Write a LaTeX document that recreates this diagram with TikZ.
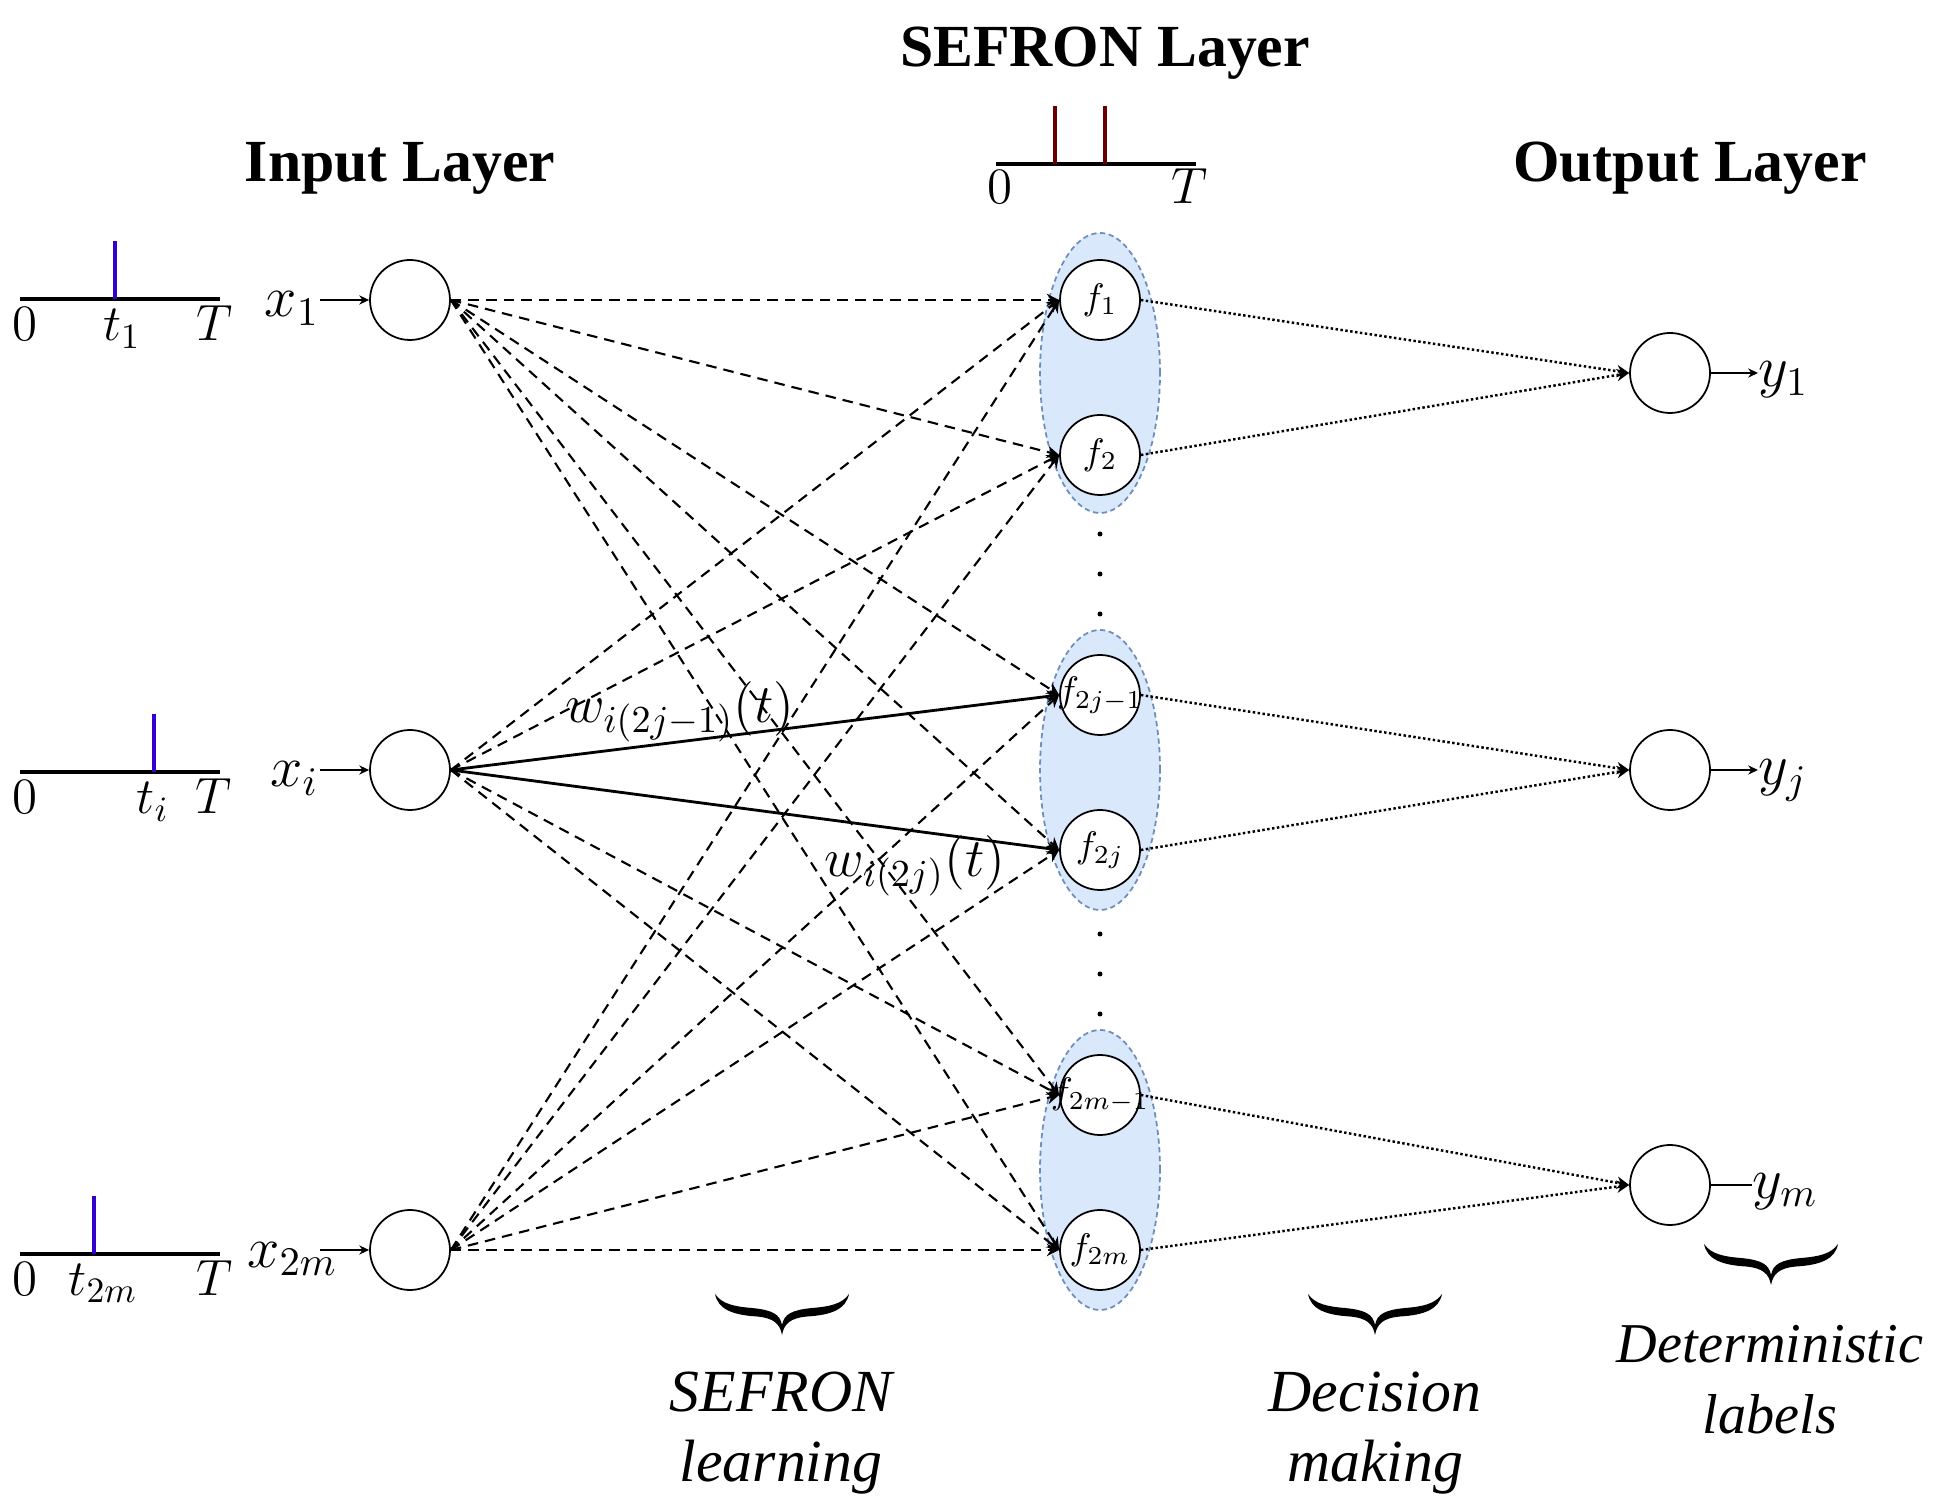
\RequirePackage{fix-cm}
\documentclass[tikz,border=0pt]{standalone}
\usepackage{fontspec}
\setmainfont{Liberation Serif}[ItalicFont={Liberation Serif Italic},BoldFont={Liberation Serif Bold}]
\usetikzlibrary{arrows.meta,calc}
\definecolor{SpikeClr}{RGB}{51,0,204}
\definecolor{FireClr}{RGB}{102,0,0}
\definecolor{GroupClr}{RGB}{218,232,252}
\definecolor{GroupLineClr}{RGB}{108,142,191}

\newcommand\titlefont{\fontsize{17}{20}\selectfont\bfseries}
\newcommand\notefont{\fontsize{17}{20}\selectfont\itshape}
\newcommand\tickfont{\fontsize{14.5}{17}\selectfont}
\newcommand\varfont{\fontsize{16.5}{19}\selectfont}
\newcommand\wfont{\fontsize{15.5}{18}\selectfont}
\newcommand\ffont{\fontsize{10.5}{12}\selectfont}
\newcommand\fl[1]{\makebox[0pt]{$#1$}}

\tikzset{
  neuron/.style={circle,draw,line width=0.5pt,fill=white,minimum size=0.8cm,inner sep=0pt,font=\ffont},
  group/.style={fill=GroupClr,draw=GroupLineClr,line width=0.5pt,dash pattern=on 1.5pt off 1pt},
  axis/.style={line width=1.2pt},
  spike/.style={line width=1.3pt,SpikeClr},
  fire/.style={line width=1.3pt,FireClr},
  syn/.style={line width=0.6pt,dash pattern=on 3pt off 2pt,-{Stealth[length=3.5pt,width=3.5pt]}},
  wsyn/.style={line width=0.8pt,-{Stealth[length=3.5pt,width=3.5pt]}},
  dec/.style={line width=0.7pt,dash pattern=on 0.7pt off 0.7pt,-{Stealth[length=3.5pt,width=3.5pt]}},
  inarr/.style={line width=0.5pt,-{Stealth[length=2.8pt,width=2.6pt]}},
  tick/.style={font=\tickfont,anchor=base,inner sep=0pt},
  title/.style={font=\titlefont,anchor=base,inner sep=0pt},
  note/.style={font=\notefont,align=center,anchor=north,inner sep=0pt},
  curly/.pic={
    \fill (0,-0.41) .. controls (-0.02,-0.30) and (-0.08,-0.24) .. (-0.25,-0.225)
      .. controls (-0.50,-0.21) and (-0.64,-0.15) .. (-0.67,0)
      .. controls (-0.60,-0.10) and (-0.48,-0.125) .. (-0.30,-0.14)
      .. controls (-0.10,-0.16) and (-0.02,-0.20) .. (0,-0.31)
      .. controls (0.02,-0.20) and (0.10,-0.16) .. (0.30,-0.14)
      .. controls (0.48,-0.125) and (0.60,-0.10) .. (0.67,0)
      .. controls (0.64,-0.15) and (0.50,-0.21) .. (0.25,-0.225)
      .. controls (0.08,-0.24) and (0.02,-0.30) .. (0,-0.41) -- cycle;
  }
}

\begin{document}
\begin{tikzpicture}
\useasboundingbox (0,0) rectangle (19.46,-15.11);

% layer titles
\node[title] (tin) at (4.00,-1.82) {Input Layer};
\node[title] (tsef) at (11.05,-0.67) {SEFRON Layer};
\node[title] (tout) at (16.90,-1.82) {Output Layer};

% groups of SEFRON neurons
\draw[group] (11.00,-3.73) ellipse [x radius=0.60,y radius=1.40];
\draw[group] (11.00,-7.70) ellipse [x radius=0.60,y radius=1.40];
\draw[group] (11.00,-11.70) ellipse [x radius=0.60,y radius=1.40];

\foreach \yy in {5.34,5.74,6.14,9.34,9.74,10.14}
  \fill (11.00,-\yy) circle (0.025);

% input spike trains
\draw[axis] (0.20,-2.99) -- (2.20,-2.99);
\draw[spike] (1.15,-2.99) -- (1.15,-2.41);
\node[tick] (o1) at (0.25,-3.41) {$0$};
\node[tick] (s1) at (1.22,-3.41) {$t_1$};
\node[tick] (e1) at (2.15,-3.41) {$T$};

\draw[axis] (0.20,-7.72) -- (2.20,-7.72);
\draw[spike] (1.54,-7.72) -- (1.54,-7.14);
\node[tick] (oi) at (0.25,-8.14) {$0$};
\node[tick] (si) at (1.53,-8.14) {$t_i$};
\node[tick] (ei) at (2.14,-8.14) {$T$};

\draw[axis] (0.20,-12.54) -- (2.20,-12.54);
\draw[spike] (0.94,-12.54) -- (0.94,-11.96);
\node[tick] (o2m) at (0.25,-12.95) {$0$};
\node[tick] (s2m) at (1.03,-12.95) {$t_{2m}$};
\node[tick] (e2m) at (2.15,-12.95) {$T$};

% output spike train of the SEFRON layer
\draw[axis] (9.96,-1.64) -- (11.96,-1.64);
\draw[fire] (10.55,-1.64) -- (10.55,-1.06);
\draw[fire] (11.05,-1.64) -- (11.05,-1.06);
\node[tick] (os) at (10.00,-2.04) {$0$};
\node[tick] (es) at (11.90,-2.04) {$T$};

% neurons
\node[neuron] (in1) at (4.10,-3.00) {};
\node[neuron] (ini) at (4.10,-7.70) {};
\node[neuron] (in2m) at (4.10,-12.50) {};

\node[neuron] (f1) at (11.00,-3.00) {\fl{f_1}};
\node[neuron] (f2) at (11.00,-4.55) {\fl{f_2}};
\node[neuron] (f3) at (11.00,-6.95) {\fl{f_{2j-1}}};
\node[neuron] (f4) at (11.00,-8.50) {\fl{f_{2j}}};
\node[neuron] (f5) at (11.00,-10.95) {\fl{f_{2m-1}}};
\node[neuron] (f6) at (11.00,-12.50) {\fl{f_{2m}}};

\node[neuron] (out1) at (16.70,-3.73) {};
\node[neuron] (outj) at (16.70,-7.70) {};
\node[neuron] (outm) at (16.70,-11.85) {};

% inputs
\node[font=\varfont,anchor=base east,inner sep=0pt] (lx1) at (3.20,-3.17) {$x_1$};
\node[font=\varfont,anchor=base east,inner sep=0pt] (lxi) at (3.19,-7.87) {$x_i$};
\node[font=\varfont,anchor=base east,inner sep=0pt] (lx2m) at (3.38,-12.67) {$x_{2m}$};
\coordinate (a1) at (3.20,-3.00);
\coordinate (ai) at (3.20,-7.70);
\coordinate (a2m) at (3.20,-12.50);
\draw[inarr] (a1) -- (in1);
\draw[inarr] (ai) -- (ini);
\draw[inarr] (a2m) -- (in2m);

% SEFRON learning
\foreach \t in {f1,f2,f3,f4,f5,f6}
  \draw[syn] (in1.east) -- (\t.west);
\foreach \t in {f1,f2,f5,f6}
  \draw[syn] (ini.east) -- (\t.west);
\foreach \t in {f1,f2,f3,f4,f5,f6}
  \draw[syn] (in2m.east) -- (\t.west);
\draw[wsyn] (ini.east) -- (f3.west);
\draw[wsyn] (ini.east) -- (f4.west);

\node[font=\wfont,anchor=base,inner sep=0pt] (w1) at (6.80,-7.23) {$w_{i(2j-1)}(t)$};
\node[font=\wfont,anchor=base,inner sep=0pt] (w2) at (9.15,-8.77) {$w_{i(2j)}(t)$};

% decision making
\foreach \a/\b in {f1/out1,f2/out1,f3/outj,f4/outj,f5/outm,f6/outm}
  \draw[dec] (\a.east) -- (\b.west);

% outputs
\node[font=\varfont,anchor=base west,inner sep=0pt] (ly1) at (17.58,-3.87) {$y_1$};
\node[font=\varfont,anchor=base west,inner sep=0pt] (lyj) at (17.58,-7.85) {$y_j$};
\node[font=\varfont,anchor=base west,inner sep=0pt] (lym) at (17.52,-11.98) {$y_m$};
\draw[inarr] (out1) -- (out1 -| ly1.west);
\draw[inarr] (outj) -- (outj -| lyj.west);
\draw[line width=0.5pt] (outm) -- (outm -| lym.west);

% braces and notes
\pic (b1) at (7.82,-12.94) {curly};
\pic (b2) at (13.75,-12.94) {curly};
\pic (b3) at (17.71,-12.44) {curly};
\node[note] (n1) at (7.81,-13.71) {SEFRON\\learning};
\node[note] (n2) at (13.75,-13.71) {Decision\\making};
\node[note,font=\fontsize{16}{20}\selectfont\itshape] (n3) at (17.70,-13.25) {Deterministic\\labels};

\end{tikzpicture}
\end{document}
